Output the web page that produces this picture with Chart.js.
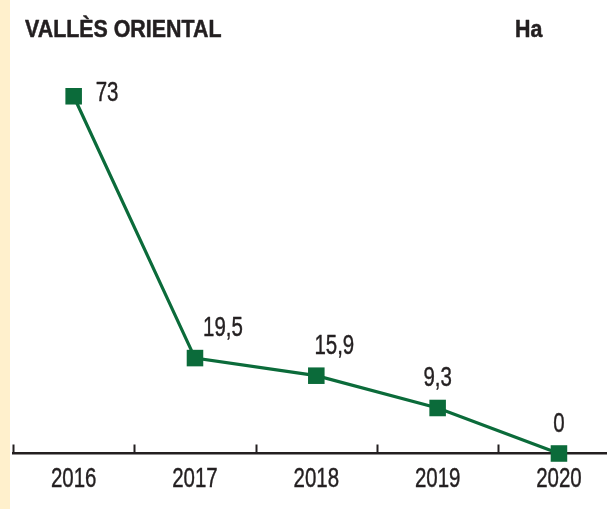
<!DOCTYPE html>
<html>
<head>
<meta charset="utf-8">
<script src="https://cdn.jsdelivr.net/npm/chart.js@4/dist/chart.umd.min.js"></script>
<style>
  html, body { margin: 0; padding: 0; background: #ffffff; }
  #wrap { position: relative; width: 607px; height: 509px; }
  #strip { position: absolute; left: 0; top: 0; width: 10px; height: 509px; background: #fff0cc; }
  canvas { position: absolute; left: 0; top: 0; }
</style>
</head>
<body>
<div id="wrap">
  <div id="strip"></div>
  <canvas id="c" width="607" height="509"></canvas>
</div>
<script>
const title = "VALLÈS ORIENTAL";
const unit = "Ha";
const categories = ["2016", "2017", "2018", "2019", "2020"];
const values = [73, 19.5, 15.9, 9.3, 0];
const valueLabels = ["73", "19,5", "15,9", "9,3", "0"];

const GREEN = "#0b6b3a";
const INK = "#231f20";
const FAMILY = "'Liberation Sans', Arial, sans-serif";
const SQUEEZE = 0.73;      // horizontal compression to mimic a condensed face
const SQUEEZE_BOLD = 0.93;
const TEXT_STROKE = 0.45;

function squeezedText(ctx, text, x, y, sx, stroke) {
  ctx.save();
  ctx.translate(x, y);
  ctx.scale(sx, 1);
  if (stroke) {
    ctx.lineWidth = stroke;
    ctx.strokeStyle = ctx.fillStyle;
    ctx.lineJoin = "round";
    ctx.strokeText(text, 0, 0);
  }
  ctx.fillText(text, 0, 0);
  ctx.restore();
}

const decorPlugin = {
  id: "decor",
  afterUpdate(chart) {
    const s = chart.scales.x;
    if (s && !s._squeezed) {
      const orig = s.drawLabels.bind(s);
      s.drawLabels = function (area) {
        const ctx = this.ctx;
        const f = ctx.fillText;
        const st = ctx.strokeText;
        ctx.fillText = function (t, x, y) {
          ctx.save(); ctx.scale(SQUEEZE, 1); f.call(ctx, t, x / SQUEEZE, y); ctx.restore();
        };
        ctx.strokeText = function (t, x, y) {
          ctx.save(); ctx.scale(SQUEEZE, 1); st.call(ctx, t, x / SQUEEZE, y); ctx.restore();
        };
        try { orig(area); } finally { delete ctx.fillText; delete ctx.strokeText; }
      };
      s._squeezed = true;
    }
  },
  afterDraw(chart) {
    const ctx = chart.ctx;
    const x = chart.scales.x;
    const bottom = chart.chartArea.bottom;
    ctx.save();
    ctx.strokeStyle = INK;
    ctx.lineWidth = 2;
    for (let i = 0; i < categories.length; i++) {
      const px = Math.round(x.getPixelForValue(i - 0.5)) + 0.5;
      ctx.beginPath();
      ctx.moveTo(px, bottom - 9);
      ctx.lineTo(px, bottom);
      ctx.stroke();
    }
    ctx.restore();
  },
  afterDatasetsDraw(chart) {
    const ctx = chart.ctx;
    const meta = chart.getDatasetMeta(0);
    ctx.save();
    ctx.fillStyle = INK;
    ctx.textBaseline = "alphabetic";
    ctx.font = "bold 23px " + FAMILY;
    ctx.textAlign = "left";
    squeezedText(ctx, title, 25, 37, SQUEEZE_BOLD, 0.5);
    squeezedText(ctx, unit, 515, 37, SQUEEZE_BOLD, 0.5);
    ctx.font = "28px " + FAMILY;
    const shift = [[22, 5, "left"], [28, -22, "center"], [18, -22, "center"], [0, -22, "center"], [0, -22, "center"]];
    meta.data.forEach((pt, i) => {
      const s = shift[i];
      ctx.textAlign = s[2];
      squeezedText(ctx, valueLabels[i], pt.x + s[0], pt.y + s[1], SQUEEZE, TEXT_STROKE);
    });
    ctx.restore();
  }
};

new Chart(document.getElementById("c"), {
  type: "line",
  data: {
    datasets: [{
      data: values.map((v, i) => ({ x: i, y: v })),
      borderColor: GREEN,
      borderWidth: 3.2,
      backgroundColor: GREEN,
      pointStyle: "rect",
      pointRadius: 11.7,
      pointBorderWidth: 0,
      pointBackgroundColor: GREEN,
      tension: 0,
      clip: false
    }]
  },
  options: {
    responsive: false,
    animation: false,
    devicePixelRatio: 1,
    layout: { autoPadding: false, padding: { left: 13, right: 0, top: 62, bottom: 0 } },
    plugins: { legend: { display: false }, tooltip: { enabled: false }, title: { display: false } },
    scales: {
      x: {
        type: "linear",
        min: -0.5,
        max: 4.396,
        grid: { display: false, drawTicks: false },
        border: { display: true, color: INK, width: 2.5 },
        afterBuildTicks(scale) { scale.ticks = categories.map((c, i) => ({ value: i })); },
        afterFit(scale) { scale.height = 55.5; },
        ticks: {
          padding: 9,
          autoSkip: false,
          maxRotation: 0,
          color: INK,
          textStrokeColor: INK,
          textStrokeWidth: TEXT_STROKE,
          font: { family: FAMILY, size: 28 },
          callback: (v) => categories[v] ?? ""
        }
      },
      y: {
        display: false,
        min: 0,
        max: 80
      }
    }
  },
  plugins: [decorPlugin]
});
</script>
</body>
</html>
